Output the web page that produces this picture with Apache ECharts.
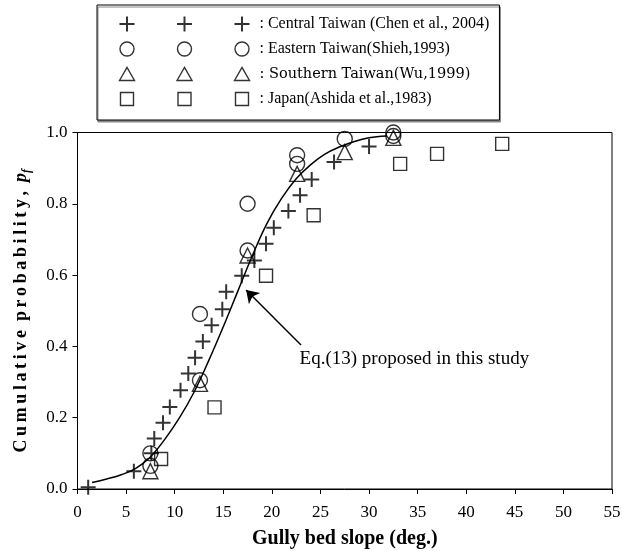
<!DOCTYPE html>
<html>
<head>
<meta charset="utf-8">
<script src="https://cdn.jsdelivr.net/npm/echarts@6/dist/echarts.min.js"></script>
<style>
html, body { margin: 0; padding: 0; background: #fff; }
#chart { width: 622px; height: 551px; }
</style>
</head>
<body>
<div id="chart"></div>
<script>
// points: gully bed slope (deg.) and cumulative probability
var centralX = [1.1, 5.8, 7.6, 7.9, 8.8, 9.5, 10.6, 11.4, 12.1, 12.9, 13.8, 14.9, 15.3, 16.9, 18.2, 19.4, 20.2, 21.7, 22.9, 24.1, 26.4, 30.0];
var centralY = [0.005, 0.05, 0.10, 0.142, 0.186, 0.23, 0.277, 0.324, 0.368, 0.414, 0.459, 0.504, 0.553, 0.598, 0.641, 0.688, 0.733, 0.78, 0.824, 0.868, 0.917, 0.961];
var easternX = [7.5, 7.5, 12.6, 12.6, 17.5, 17.5, 22.6, 22.6, 27.5, 32.5, 32.5];
var easternY = [0.10, 0.065, 0.305, 0.491, 0.669, 0.80, 0.912, 0.936, 0.982, 0.99, 1.0];
var southernX = [7.5, 12.6, 17.5, 22.6, 27.5, 32.5];
var southernY = [0.05, 0.295, 0.655, 0.884, 0.945, 0.985];
var japanX = [8.6, 14.1, 19.4, 24.3, 33.2, 37.0, 43.7];
var japanY = [0.084, 0.229, 0.598, 0.768, 0.912, 0.94, 0.968];

// Eq.(13) curve
var curveX = [1.5, 3, 4.5, 6, 7.5, 9, 10.5, 12, 13.5, 15, 16.5, 18, 19.5, 21, 22.5, 24, 25.5, 27, 28.5, 30, 31.8];
var curveY = [0.018, 0.028, 0.04, 0.058, 0.09, 0.14, 0.20, 0.272, 0.36, 0.455, 0.555, 0.655, 0.745, 0.815, 0.87, 0.91, 0.94, 0.96, 0.975, 0.985, 0.99];

var seriesNames = ['Central Taiwan (Chen et al., 2004)', 'Eastern Taiwan(Shieh,1993)', 'Southern Taiwan(Wu,1999)', 'Japan(Ashida et al.,1983)'];

var serif = 'Liberation Serif';

function pairs(xs, ys) {
	return xs.map(function (x, i) { return [x, ys[i]]; });
}

// spread the letters a little, like the original y title
function spaced(s) {
	return s.split('').join('\u2009');
}

// legend icons: the same marker three times
var centers = [7.5, 65, 122.5];
var pin = 'M0,0M130,0M0,15M130,15';
function plusIcon() {
	return 'path://' + centers.map(function (c) {
		return 'M' + (c - 7.5) + ',7.5L' + (c + 7.5) + ',7.5M' + c + ',0L' + c + ',15';
	}).join('') + pin;
}
function circleIcon() {
	return 'path://' + centers.map(function (c) {
		return 'M' + (c - 7) + ',7.5A7,7 0 1,0 ' + (c + 7) + ',7.5A7,7 0 1,0 ' + (c - 7) + ',7.5Z';
	}).join('') + pin;
}
function triIcon() {
	return 'path://' + centers.map(function (c) {
		return 'M' + (c - 7.5) + ',14L' + c + ',1L' + (c + 7.5) + ',14Z';
	}).join('') + pin;
}
function squareIcon() {
	return 'path://' + centers.map(function (c) {
		return 'M' + (c - 6.5) + ',1L' + (c + 6.5) + ',1L' + (c + 6.5) + ',14L' + (c - 6.5) + ',14Z';
	}).join('') + pin;
}

var hollow = { color: 'rgba(0,0,0,0)', borderColor: '#000', borderWidth: 1.4 };

var chart = echarts.init(document.getElementById('chart'));

var option = {
	animation: false,
	backgroundColor: '#fff',
	grid: {
		left: 77.5, right: 10, top: 132.5, bottom: 62,
		outerBoundsMode: 'none',
		show: true, borderColor: '#000', borderWidth: 1
	},
	legend: {
		orient: 'vertical',
		left: 97, top: 5,
		padding: [9, 10, 11, 20],
		itemWidth: 130, itemHeight: 15, itemGap: 5,
		borderColor: '#000', borderWidth: 1,
		backgroundColor: '#fff',
		shadowColor: '#888', shadowOffsetX: 1, shadowOffsetY: 2, shadowBlur: 0,
		selectedMode: false,
		formatter: function (name) {
			if (name === seriesNames[2]) return '{w|: ' + name + '}';
			return '{t|: ' + name + '}';
		},
		textStyle: {
			color: '#000',
			padding: [0, 0, 0, 5],
			rich: {
				t: { fontFamily: serif, fontSize: 16, color: '#000', lineHeight: 16 },
				w: { fontFamily: 'DejaVu Serif', fontSize: 14.5, color: '#000', lineHeight: 16 }
			}
		},
		data: [
			{ name: seriesNames[0], icon: plusIcon(), itemStyle: { color: 'none', borderColor: '#000', borderWidth: 2 } },
			{ name: seriesNames[1], icon: circleIcon(), itemStyle: { color: 'none', borderColor: '#000', borderWidth: 1.4 } },
			{ name: seriesNames[2], icon: triIcon(), itemStyle: { color: 'none', borderColor: '#000', borderWidth: 1.4 } },
			{ name: seriesNames[3], icon: squareIcon(), itemStyle: { color: 'none', borderColor: '#000', borderWidth: 1.4 } }
		]
	},
	xAxis: {
		type: 'value', min: 0, max: 55, interval: 5,
		splitLine: { show: false },
		axisLine: { onZero: false, lineStyle: { color: '#000', width: 1 } },
		axisTick: { length: 5, lineStyle: { color: '#000' } },
		axisLabel: { fontFamily: serif, fontSize: 17, color: '#000', margin: 15 },
		name: 'Gully bed slope (deg.)',
		nameLocation: 'middle', nameGap: 40,
		nameTextStyle: { fontFamily: serif, fontWeight: 'bold', fontSize: 20, color: '#000' }
	},
	yAxis: {
		type: 'value', min: 0, max: 1, interval: 0.2,
		splitLine: { show: false },
		axisLine: { onZero: false, lineStyle: { color: '#000', width: 1 } },
		axisTick: { length: 5, lineStyle: { color: '#000' } },
		axisLabel: {
			fontFamily: serif, fontSize: 17, color: '#000', margin: 10,
			formatter: function (v) { return v.toFixed(1); }
		},
		name: '{a|' + spaced('Cumulative') + '  ' + spaced('probability,') + '  }{b|p}{c|f}',
		nameLocation: 'middle', nameGap: 44,
		nameTextStyle: {
			rich: {
				a: { fontFamily: serif, fontWeight: 'bold', fontSize: 18, color: '#000', lineHeight: 24 },
				b: { fontFamily: serif, fontWeight: 'bold', fontStyle: 'italic', fontSize: 18, color: '#000', lineHeight: 24 },
				c: { fontFamily: serif, fontWeight: 'bold', fontStyle: 'italic', fontSize: 12, color: '#000', lineHeight: 24, padding: [10, 0, 0, 0] }
			}
		}
	},
	series: [
		{
			name: 'Eq.(13)',
			type: 'line',
			data: pairs(curveX, curveY),
			smooth: 0.4,
			showSymbol: false,
			lineStyle: { color: '#000', width: 1.5 },
			z: 1,
			markLine: {
				silent: true,
				symbol: ['none', 'arrow'],
				symbolSize: 12,
				label: { show: false },
				lineStyle: { color: '#000', width: 1.5, type: 'solid' },
				data: [[{ coord: [23.0, 0.404] }, { coord: [17.35, 0.558] }]]
			},
			markPoint: {
				silent: true,
				symbol: 'circle', symbolSize: 1,
				itemStyle: { color: 'rgba(0,0,0,0)' },
				label: {
					show: true, position: 'right', distance: 0,
					fontFamily: serif, fontSize: 19, color: '#000',
					formatter: 'Eq.(13) proposed in this study'
				},
				data: [{ coord: [22.8, 0.365] }]
			}
		},
		{
			name: seriesNames[0],
			type: 'scatter',
			data: pairs(centralX, centralY),
			symbol: 'path://M0,7.5L15,7.5M7.5,0L7.5,15',
			symbolSize: 15,
			itemStyle: { color: 'rgba(0,0,0,0)', borderColor: '#000', borderWidth: 2 },
			z: 3
		},
		{
			name: seriesNames[1],
			type: 'scatter',
			data: pairs(easternX, easternY),
			symbol: 'circle',
			symbolSize: 15,
			itemStyle: hollow,
			z: 3
		},
		{
			name: seriesNames[2],
			type: 'scatter',
			data: pairs(southernX, southernY),
			symbol: 'triangle',
			symbolSize: 15,
			itemStyle: hollow,
			z: 3
		},
		{
			name: seriesNames[3],
			type: 'scatter',
			data: pairs(japanX, japanY),
			symbol: 'rect',
			symbolSize: 13,
			itemStyle: hollow,
			z: 3
		}
	]
};

chart.setOption(option);
window.addEventListener('resize', function () {
	chart.resize();
});
</script>
</body>
</html>
